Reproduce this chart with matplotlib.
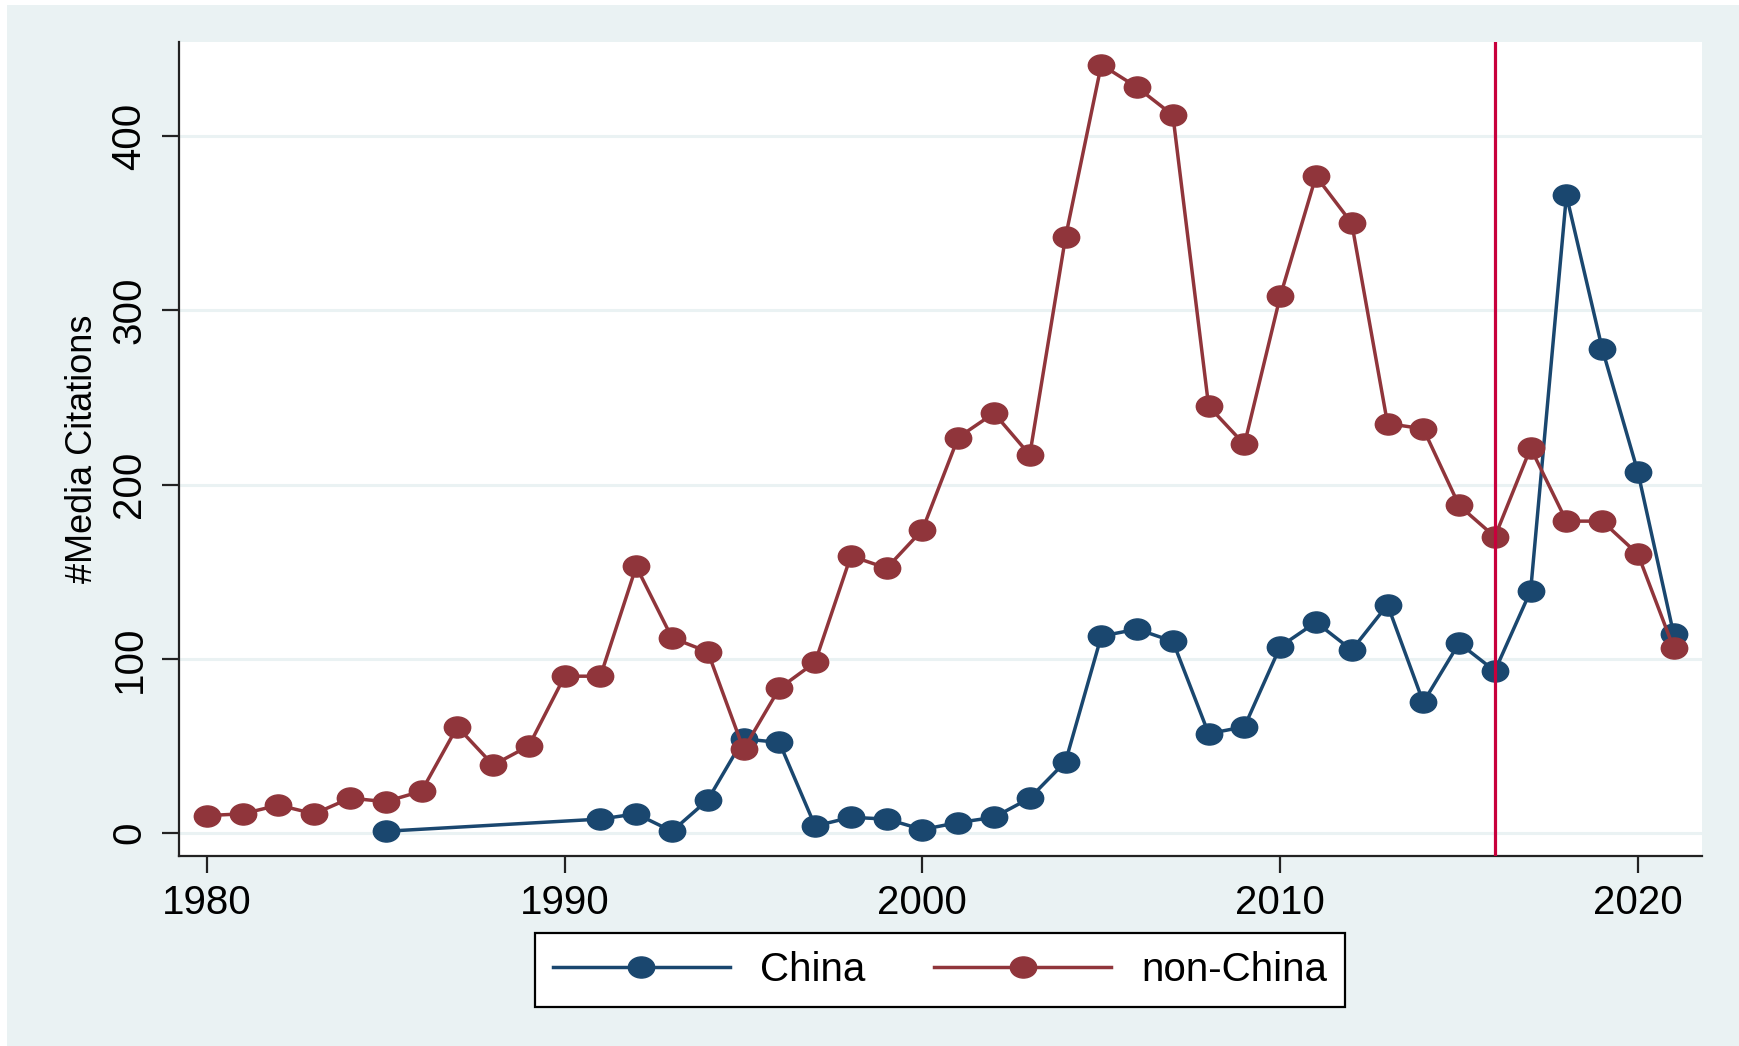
# -*- coding: utf-8 -*-

import numpy as np
import matplotlib.pyplot as plt
from matplotlib.path import Path
from matplotlib.transforms import Affine2D
from matplotlib.patches import Rectangle
from matplotlib.lines import Line2D

#==============================================================================
# Data
#==============================================================================

years_nc = np.arange(1980, 2022)
non_china = [10, 11, 16, 11, 20, 18, 24, 61, 39, 50,
             90, 90, 153, 112, 104, 48, 83, 98, 159, 152,
             174, 227, 241, 217, 342, 441, 428, 412, 245, 223,
             308, 377, 350, 235, 232, 188, 170, 221, 179, 179,
             160, 106]

years_ch = [1985] + list(range(1991, 2022))
china = [1,
         8, 11, 1, 19, 54, 52, 4, 9, 8,
         2, 6, 9, 20, 41, 113, 117, 110, 57, 61,
         107, 121, 105, 131, 75, 109, 93, 139, 366, 278,
         207, 114]

event_year = 2016

labels = ["China", "non-China"]
col_china = "#1A476F"
col_nonchina = "#90353B"
col_event = "#C8003C"
col_bg = "#EAF2F3"

plt.rcParams['font.family'] = ['Liberation Sans', 'DejaVu Sans']

# slightly flattened circle, like the stretched Stata markers
ell = Path.unit_circle().transformed(Affine2D().scale(1.0, 0.8))

#==============================================================================
# Figure
#==============================================================================

fig = plt.figure(figsize=(17.4, 10.46), dpi=100, facecolor="white")
fig.patches.append(Rectangle((7/1740., 0), 1, 1 - 5/1046., transform=fig.transFigure,
                             facecolor=col_bg, edgecolor="none", zorder=-10))

ax = fig.add_axes([179/1740., 1 - 856/1046., (1702-179)/1740., (856-42)/1046.])
ax.set_facecolor("white")

lw = 2.5
ms = 19
ax.plot(years_ch, china, color=col_china, lw=lw, marker=ell, ms=ms, zorder=3)
ax.plot(years_nc, non_china, color=col_nonchina, lw=lw, marker=ell, ms=ms, zorder=3)
ax.axvline(event_year, color=col_event, lw=2.3, zorder=4)

ax.set_xlim(1979.22, 2021.79)
ax.set_ylim(-13.2, 454)
ax.set_xticks(np.arange(1980, 2021, 10))
ax.set_yticks(np.arange(0, 401, 100))
ax.grid(axis="y", color=col_bg, lw=2.2, zorder=0)
ax.set_axisbelow(True)

for s in ["top", "right"]:
    ax.spines[s].set_visible(False)
for s in ["left", "bottom"]:
    ax.spines[s].set_color("#222222")
    ax.spines[s].set_linewidth(1.6)

ax.tick_params(axis="both", direction="out", length=12, width=1.6, color="#222222")
ax.tick_params(axis="x", labelsize=29, pad=8)
ax.tick_params(axis="y", labelsize=29, pad=10)
for t in ax.get_yticklabels():
    t.set_rotation(90)
    t.set_va("center")

ax.set_ylabel("#Media Citations", fontsize=26)
ax.yaxis.set_label_coords(-0.052, 0.5)

handles = [Line2D([], [], color=col_china, lw=lw, marker=ell, ms=ms),
           Line2D([], [], color=col_nonchina, lw=lw, marker=ell, ms=ms)]
leg = fig.legend(handles, labels, loc="center", bbox_to_anchor=(940/1740., 1 - 970/1046.),
                 ncol=2, fontsize=29, frameon=True, fancybox=False, framealpha=1,
                 edgecolor="black", handlelength=4.4, handletextpad=0.75,
                 columnspacing=1.7, borderpad=0.45)
leg.get_frame().set_linewidth(1.6)

plt.savefig("out.png", dpi=100, facecolor=fig.get_facecolor())
